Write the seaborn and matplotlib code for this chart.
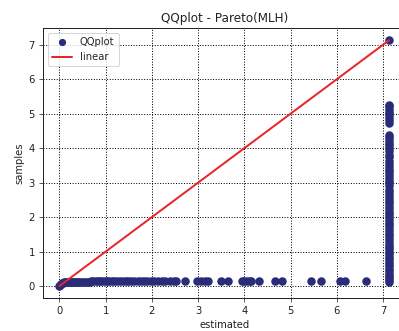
import numpy as np
import pandas as pd
import matplotlib
matplotlib.use("Agg")
import matplotlib.pyplot as plt
import seaborn as sns

# Estimated (theoretical) quantiles and observed sample quantiles
estimated = [
    0.00, 0.02, 0.04, 0.06, 0.08, 0.10, 0.13, 0.16, 0.19, 0.22, 0.25, 0.28,
    0.31, 0.34, 0.37, 0.41, 0.45, 0.49, 0.53, 0.57, 0.61, 0.65, 0.69, 0.73,
    0.78, 0.83, 0.88, 0.93, 0.98, 1.03, 1.08, 1.13, 1.19, 1.25, 1.31, 1.37,
    1.43, 1.49, 1.55, 1.62, 1.69, 1.76, 1.83, 1.90, 1.97, 2.05, 2.13, 2.21,
    2.29, 2.40, 2.47, 2.53, 2.72, 2.98, 3.06, 3.14, 3.22, 3.49, 3.65, 3.94,
    4.00, 4.05, 4.12, 4.15, 4.32, 4.66, 4.81, 5.44, 5.65, 6.07, 6.18, 6.63,
]
samples = [
    0.00, 0.04, 0.07, 0.09, 0.10, 0.11, 0.11, 0.12, 0.12, 0.12, 0.12, 0.13,
    0.13, 0.13, 0.13, 0.13, 0.13, 0.13, 0.13, 0.13, 0.13, 0.13, 0.14, 0.14,
    0.14, 0.14, 0.14, 0.14, 0.14, 0.14, 0.14, 0.14, 0.14, 0.14, 0.14, 0.14,
    0.14, 0.14, 0.14, 0.14, 0.14, 0.14, 0.14, 0.14, 0.15, 0.15, 0.15, 0.15,
    0.15, 0.15, 0.15, 0.15, 0.15, 0.15, 0.15, 0.15, 0.15, 0.15, 0.15, 0.15,
    0.15, 0.15, 0.15, 0.15, 0.15, 0.15, 0.15, 0.15, 0.15, 0.15, 0.15, 0.15,
]
# Upper tail: all of these share the largest estimated quantile
tail_estimated = 7.13
tail_samples = [
    0.12, 0.18, 0.24, 0.30, 0.36, 0.43, 0.50, 0.57, 0.64, 0.71, 0.78, 0.85,
    0.92, 0.99, 1.06, 1.13, 1.20, 1.28, 1.36, 1.44, 1.52, 1.60, 1.68, 1.76,
    1.84, 1.92, 2.00, 2.08, 2.16, 2.24, 2.32, 2.40, 2.48, 2.56, 2.64, 2.72,
    2.80, 2.90, 3.00, 3.05, 3.14, 3.22, 3.30, 3.38, 3.46, 3.55, 3.64, 3.73,
    3.80, 3.92, 4.00, 4.08, 4.16, 4.24, 4.31, 4.39, 4.73, 4.82, 4.90, 4.98,
    5.06, 5.14, 5.22, 5.26, 7.13,
]

df = pd.DataFrame({
    "estimated": estimated + [tail_estimated] * len(tail_samples),
    "samples": samples + tail_samples,
})
lo = min(df["estimated"].min(), df["samples"].min())
hi = max(df["estimated"].max(), df["samples"].max())
line = pd.DataFrame({"x": [lo, hi], "y": [lo, hi]})

sns.set_style("white")
plt.rcParams["font.family"] = ["DejaVu Sans"]

W, H, DPI = 399, 331, 72
fig = plt.figure(figsize=(W / DPI, H / DPI), dpi=DPI)
ax = fig.add_axes([43 / W, (H - 298.3) / H, (405.5 - 43) / W, (298.3 - 28) / H])

dot_color = "#292c78"
line_color = "#e8262a"

sns.scatterplot(data=df, x="estimated", y="samples", ax=ax, color=dot_color,
                s=72, linewidth=0, label="QQplot", zorder=2)
sns.lineplot(data=line, x="x", y="y", ax=ax, color=line_color, lw=2,
             label="linear", zorder=3)

ax.set_xticks(range(0, 8))
ax.set_yticks(range(0, 8))
ax.grid(True, color="black", linestyle=":", linewidth=1)
ax.set_axisbelow(True)
for s in ax.spines.values():
    s.set_color("#222222")
    s.set_linewidth(1)
ax.tick_params(direction="out", length=4, width=0.8, color="#333333", pad=4,
               labelsize=10, labelcolor="#222222", left=True, bottom=True)
ax.set_title("QQplot - Pareto(MLH)", fontsize=12, color="#222222")
ax.set_xlabel("estimated", fontsize=10, color="#222222")
ax.set_ylabel("samples", fontsize=10, color="#222222")
leg = ax.legend(loc="upper left", fontsize=10, frameon=True, markerscale=0.85)
leg.get_frame().set_edgecolor("#cccccc")

fig.savefig("out.png", dpi=DPI)
